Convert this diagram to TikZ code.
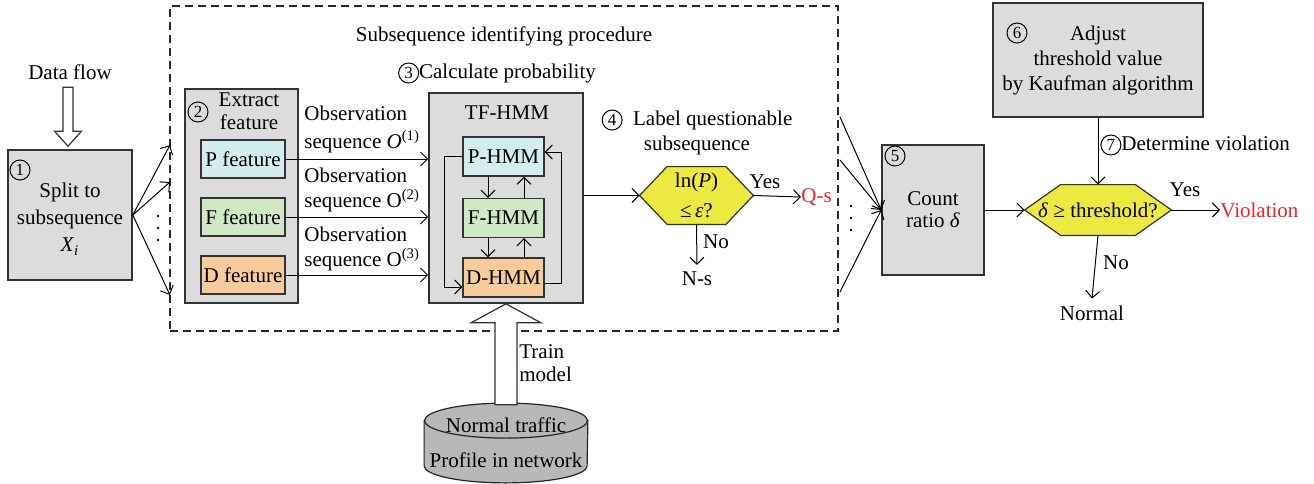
\documentclass[tikz,border=0pt]{standalone}
\usepackage{fontspec}
\setmainfont{Liberation Serif}
\usetikzlibrary{positioning,calc,backgrounds,arrows.meta}
\definecolor{boxgray}{RGB}{220,220,220}
\definecolor{dbgray}{RGB}{184,184,184}
\definecolor{pcol}{RGB}{210,236,240}
\definecolor{fcol}{RGB}{208,232,198}
\definecolor{dcol}{RGB}{248,203,154}
\definecolor{hexcol}{RGB}{236,233,64}
\definecolor{qred}{RGB}{232,38,42}
\newcommand{\cnum}[1]{\tikz[baseline=(CN.base)]\node (CN) [circle, draw=black, line width=0.5pt,
  inner sep=0pt, minimum size=10pt, font=\fontsize{8.5}{8.5}\selectfont] {#1};}
\tikzstyle{gbox}=[rectangle, draw=black!80, fill=boxgray, line width=0.8pt]
\tikzstyle{fbox}=[rectangle, draw=black!80, line width=0.6pt, minimum width=42pt,
                  minimum height=19pt, inner sep=1pt]
\tikzstyle{hbox}=[rectangle, draw=black!80, line width=0.6pt, minimum width=40.5pt,
                  minimum height=19.5pt, inner sep=1pt]
\tikzstyle{hexnode}=[rectangle, inner sep=1pt]
\tikzstyle{hexfill}=[fill=hexcol, draw=black!80, line width=0.6pt]
\tikzstyle{hollow}=[draw=black!80, fill=white, line width=0.6pt]
\tikzstyle{dashbox}=[draw=black!85, line width=0.6pt, dash pattern=on 4pt off 2.5pt]
\tikzstyle{pline}=[->, line width=0.5pt]

\begin{document}
\begin{tikzpicture}[x=0.5pt, y=-0.5pt, font=\fontsize{10.5}{12.5}\selectfont,
  >={Straight Barb[length=3.5pt,width=7pt]}]
\useasboundingbox (0,0) rectangle (1314,483);

\node (SIP) [dashbox, minimum width=334pt, minimum height=162.5pt] at (504,168.5) {};
\node (SIPL) at (504,36) {Subsequence identifying procedure};
\node (N3L) at (497,73) {\cnum{3}Calculate probability};

\node (SPLIT) [gbox, minimum width=62pt, minimum height=65pt, align=center,
  font=\fontsize{10.5}{13.5}\selectfont] at (70,215)
  {\\[-2pt]Split to\\subsequence\\\textit{X}\textsubscript{\textit{i}}};
\node (N1) [inner sep=0pt] at (20,170) {\cnum{1}};
\node (DF) at (70,72) {Data flow};
\draw[hollow, shift={(SPLIT.north)}] (-2,-3) -- (-15.5,-18) -- (-7,-18) -- (-7,-62)
  -- (3,-62) -- (3,-18) -- (11.5,-18) -- cycle;

\coordinate (IN1) at (170,145);
\coordinate (IN2) at (170,182);
\coordinate (IN3) at (170,295);
\draw[pline] (SPLIT.east) -- (IN1);
\draw[pline] (SPLIT.east) -- (IN2);
\draw[pline] (SPLIT.east) -- (IN3);
\foreach \y in {216,228,240} \fill (158,\y) circle (0.7pt);

\node (EXT) [gbox, minimum width=56.5pt, minimum height=107pt] at (241.5,196) {};
\node (EXTL) [align=center, font=\fontsize{10.5}{11.5}\selectfont] at (249,111) {Extract\\feature};
\node (N2) [inner sep=0pt] at (198,112) {\cnum{2}};
\node (PF) [fbox, fill=pcol] at (243,159) {P feature};
\node (FF) [fbox, fill=fcol] at (243,217) {F feature};
\node (DFE) [fbox, fill=dcol] at (243,275) {D feature};

\node (TF) [gbox, minimum width=77pt, minimum height=105pt] at (506,198) {};
\node (TFL) at (507,113) {TF-HMM};
\node (PH) [hbox, fill=pcol] at (503.5,156.5) {P-HMM};
\node (FH) [hbox, fill=fcol] at (503.5,218) {F-HMM};
\node (DH) [hbox, fill=dcol] at (503.5,277.5) {D-HMM};

\draw[pline] (PF.east) -- (PF.east -| TF.west);
\draw[pline] (FF.east) -- (FF.east -| TF.west);
\draw[pline] (DFE.east) -- (DFE.east -| TF.west);
\node (OBS1) [anchor=west, align=left, inner sep=0pt] at (304,129)
  {Observation\\[1.5pt]sequence \textit{O}\textsuperscript{(1)}};
\node (OBS2) [anchor=west, align=left, inner sep=0pt] at (304,190)
  {Observation\\[0pt]sequence O\textsuperscript{(2)}};
\node (OBS3) [anchor=west, align=left, inner sep=0pt] at (304,249)
  {Observation\\[0pt]sequence O\textsuperscript{(3)}};

\draw[pline] ($(PH.south)+(-15.5,0)$) -- ($(FH.north)+(-15.5,0)$);
\draw[pline] ($(FH.south)+(-15.5,0)$) -- ($(DH.north)+(-15.5,0)$);
\draw[pline] ($(FH.north)+(20.5,0)$) -- ($(PH.south)+(20.5,0)$);
\draw[pline] ($(DH.north)+(20.5,0)$) -- ($(FH.south)+(20.5,0)$);
\draw[pline] (PH.west) -- ++(-18,0) |- ($(DH.west)+(0,9.5)$);
\draw[pline] ($(DH.east)+(0,5.5)$) -- ++(17,0) |- ($(PH.east)+(0,-4.5)$);

\node (N4L) at (697,120) {\cnum{4}\ \ Label questionable};
\node (N4L2) at (697,145) {subsequence};
\node (H1) [hexnode, minimum width=56.5pt, minimum height=28.5pt, align=center,
  font=\fontsize{10.5}{15}\selectfont] at (696.5,195.5)
  {ln(\textit{P})\\≤\,\textit{ε}?};
\draw[pline] (TF.east |- H1.west) -- (H1.west);
\node (QS) [anchor=west, text=qred, inner sep=0pt] at (801,197) {Q-s};
\draw[pline] (H1.east) -- (QS.west);
\node (Y1) at (765,182) {Yes};
\node (NS) at (697,279) {N-s};
\draw[pline] (H1.south) -- (NS.north);
\node (NO1) at (716,242) {No};

\node (DB) [minimum width=81.5pt, minimum height=39.5pt, align=center, inner sep=0pt]
  at (506,443) {Normal traffic\\[5pt]Profile in network};
\draw[hollow, shift={(TF.south)}] (0,0) -- (-35,19) -- (-11,19) -- (-11,101)
  -- (11,101) -- (11,19) -- (35,19) -- cycle;
\node (TRL) [anchor=west, align=left, inner sep=0pt, font=\fontsize{10.5}{11.5}\selectfont]
  at (519,363) {Train\\model};

\node (CNT) [gbox, minimum width=51pt, minimum height=65pt, align=center,
  font=\fontsize{10.5}{11}\selectfont] at (933,210) {Count\\ratio \textit{δ}};
\node (N5) [inner sep=0pt] at (895,156) {\cnum{5}};
\coordinate (OUT1) at (840,117);
\coordinate (OUT2) at (840,160);
\coordinate (OUT3) at (840,292);
\draw[pline] (OUT1) -- (CNT.west);
\draw[pline] (OUT2) -- (CNT.west);
\draw[pline] (OUT3) -- (CNT.west);
\foreach \y in {206,218,230} \fill (851,\y) circle (0.7pt);

\node (ADJ) [gbox, minimum width=105pt, minimum height=57pt, align=center] at (1098,60)
  {Adjust\\threshold value\\by Kaufman algorithm};
\node (N6) [inner sep=0pt] at (1017,33) {\cnum{6}};
\node (H2) [hexnode, minimum width=73pt, minimum height=25pt] at (1098,210)
  {\textit{δ} ≥ threshold?};
\draw[pline] (ADJ.south) -- (H2.north);
\node (N7L) [anchor=west, inner sep=0pt] at (1100,145) {\cnum{7}Determine violation};
\draw[pline] (CNT.east) -- (H2.west);
\node (VIOL) [anchor=west, text=qred, inner sep=0pt] at (1220,210) {Violation};
\draw[pline] (H2.east) -- (VIOL.west);
\node (Y2) at (1185,190) {Yes};
\node (NORM) at (1092,313) {Normal};
\draw[pline] (H2.south) -- (NORM.north);
\node (NO2) at (1116,263) {No};

\begin{scope}[on background layer]
\filldraw[hexfill] (H1.west) -- ($(H1.north west)+(27.5,0)$) -- ($(H1.north east)+(-27.5,0)$)
  -- (H1.east) -- ($(H1.south east)+(-27.5,0)$) -- ($(H1.south west)+(27.5,0)$) -- cycle;
\filldraw[hexfill] (H2.west) -- ($(H2.north west)+(36,0)$) -- ($(H2.north east)+(-36,0)$)
  -- (H2.east) -- ($(H2.south east)+(-36,0)$) -- ($(H2.south west)+(36,0)$) -- cycle;
\filldraw[fill=dbgray, draw=black!85, line width=0.6pt] ($(DB.north west)+(0,17.5)$)
  -- ($(DB.south west)+(0,-17)$) arc[start angle=180, end angle=360, x radius=40.75pt, y radius=8.5pt]
  -- ($(DB.north east)+(0,17.5)$) -- cycle;
\filldraw[fill=dbgray, draw=black!85, line width=0.6pt] ($(DB.north)+(0,17.5)$)
  ellipse [x radius=40.75pt, y radius=8.75pt];
\end{scope}

\end{tikzpicture}
\end{document}
